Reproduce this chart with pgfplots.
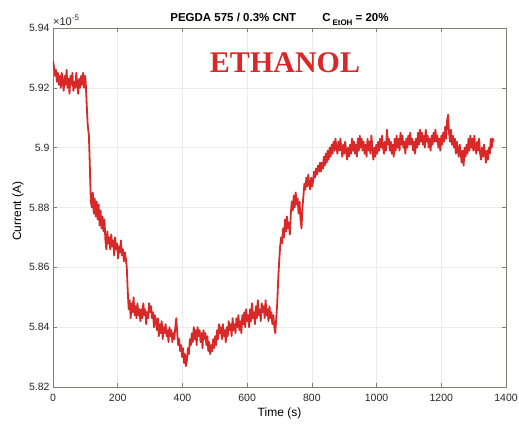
\documentclass[border=0pt]{standalone}
\usepackage{pgfplots}
\pgfplotsset{compat=1.18}
\usepackage{pgfplotstable}
\usepackage{fontspec}
\setmainfont{Liberation Sans}
\newfontfamily\serifb{Liberation Serif}
\definecolor{lred}{RGB}{217,40,40}
\definecolor{axgray}{RGB}{130,125,120}
\definecolor{gridgray}{RGB}{235,235,235}
\pgfplotstableread{
x y
0 5.929
3 5.927
6 5.924
9 5.926
12 5.922
15 5.925
18 5.921
21 5.924
24 5.920
27 5.925
30 5.922
33 5.919
36 5.924
39 5.921
42 5.926
45 5.920
48 5.923
51 5.918
54 5.924
57 5.921
60 5.925
63 5.919
66 5.922
69 5.920
72 5.925
75 5.921
78 5.918
81 5.923
84 5.920
87 5.924
90 5.921
93 5.925
96 5.920
99 5.924
101 5.922
104 5.915
107 5.908
109 5.906
111 5.904
113 5.897
115 5.889
117 5.882
120 5.880
123 5.885
126 5.878
129 5.883
132 5.877
135 5.882
138 5.876
141 5.881
144 5.874
147 5.879
150 5.873
153 5.877
156 5.872
159 5.876
162 5.869
165 5.866
168 5.872
171 5.868
174 5.870
177 5.866
180 5.871
183 5.867
186 5.869
189 5.864
192 5.870
195 5.866
198 5.868
201 5.863
204 5.867
207 5.865
210 5.869
213 5.864
216 5.866
219 5.862
222 5.865
225 5.863
228 5.860
231 5.852
234 5.846
237 5.849
240 5.843
243 5.848
246 5.845
249 5.850
252 5.844
255 5.847
258 5.843
261 5.848
264 5.844
267 5.846
270 5.842
273 5.846
276 5.843
279 5.848
282 5.844
285 5.846
288 5.841
291 5.845
294 5.843
297 5.848
300 5.845
303 5.847
306 5.843
309 5.845
312 5.840
315 5.844
318 5.842
321 5.839
324 5.843
327 5.837
330 5.841
333 5.838
336 5.842
339 5.836
342 5.840
345 5.838
348 5.841
351 5.837
354 5.839
357 5.835
360 5.840
363 5.837
366 5.839
369 5.835
372 5.838
375 5.836
378 5.840
381 5.843
384 5.838
387 5.834
390 5.836
393 5.832
396 5.834
399 5.830
402 5.833
405 5.828
408 5.831
411 5.827
414 5.829
417 5.833
420 5.831
423 5.836
426 5.834
429 5.838
432 5.835
435 5.840
438 5.836
441 5.839
444 5.834
447 5.840
450 5.837
453 5.839
456 5.835
459 5.838
462 5.833
465 5.839
468 5.836
471 5.838
474 5.834
477 5.837
480 5.832
483 5.835
486 5.831
489 5.834
492 5.832
495 5.836
498 5.833
501 5.837
504 5.834
507 5.839
510 5.836
513 5.841
516 5.838
519 5.840
522 5.836
525 5.841
528 5.837
531 5.839
534 5.835
537 5.840
540 5.837
543 5.842
546 5.839
549 5.841
552 5.837
555 5.843
558 5.839
561 5.841
564 5.838
567 5.843
570 5.840
573 5.844
576 5.839
579 5.842
582 5.838
585 5.844
588 5.841
591 5.845
594 5.840
597 5.846
600 5.842
603 5.844
606 5.840
609 5.846
612 5.842
615 5.848
618 5.843
621 5.845
624 5.841
627 5.847
630 5.843
633 5.849
636 5.844
639 5.846
642 5.842
645 5.848
648 5.845
651 5.847
654 5.843
657 5.849
660 5.844
663 5.846
666 5.842
669 5.847
672 5.843
675 5.845
678 5.841
681 5.844
684 5.840
687 5.838
690 5.843
693 5.848
696 5.856
699 5.862
702 5.867
705 5.870
708 5.868
711 5.873
714 5.870
717 5.876
720 5.872
723 5.877
726 5.873
729 5.875
732 5.871
735 5.878
738 5.882
741 5.879
744 5.884
747 5.880
750 5.885
753 5.881
756 5.883
759 5.878
762 5.882
765 5.876
768 5.873
771 5.880
774 5.884
777 5.888
780 5.886
783 5.890
786 5.887
789 5.891
792 5.888
795 5.886
798 5.890
801 5.887
804 5.889
807 5.892
810 5.890
813 5.893
816 5.891
819 5.894
822 5.892
825 5.895
828 5.892
831 5.895
834 5.893
837 5.897
840 5.894
843 5.898
846 5.895
849 5.899
852 5.896
855 5.900
858 5.897
861 5.901
864 5.898
867 5.902
870 5.899
873 5.903
876 5.900
879 5.898
882 5.902
885 5.899
888 5.903
891 5.900
894 5.897
897 5.901
900 5.898
903 5.902
906 5.899
909 5.896
912 5.900
915 5.897
918 5.901
921 5.898
924 5.903
927 5.899
930 5.902
933 5.898
936 5.901
939 5.897
942 5.903
945 5.899
948 5.904
951 5.900
954 5.903
957 5.899
960 5.902
963 5.898
966 5.901
969 5.897
972 5.903
975 5.899
978 5.902
981 5.898
984 5.904
987 5.900
990 5.896
993 5.900
996 5.897
999 5.901
1002 5.898
1005 5.902
1008 5.899
1011 5.903
1014 5.900
1017 5.904
1020 5.900
1023 5.898
1026 5.902
1029 5.899
1032 5.906
1035 5.901
1038 5.903
1041 5.899
1044 5.902
1047 5.898
1050 5.901
1053 5.897
1056 5.903
1059 5.899
1062 5.904
1065 5.900
1068 5.903
1071 5.899
1074 5.905
1077 5.901
1080 5.904
1083 5.900
1086 5.902
1089 5.898
1092 5.903
1095 5.900
1098 5.904
1101 5.901
1104 5.905
1107 5.901
1110 5.903
1113 5.899
1116 5.902
1119 5.898
1122 5.903
1125 5.900
1128 5.905
1131 5.901
1134 5.906
1137 5.902
1140 5.905
1143 5.901
1146 5.904
1149 5.900
1152 5.906
1155 5.902
1158 5.904
1161 5.900
1164 5.903
1167 5.899
1170 5.904
1173 5.901
1176 5.905
1179 5.902
1182 5.906
1185 5.902
1188 5.904
1191 5.900
1194 5.903
1197 5.899
1200 5.904
1203 5.901
1206 5.905
1209 5.902
1212 5.907
1215 5.903
1218 5.909
1221 5.911
1224 5.905
1227 5.902
1230 5.906
1233 5.901
1236 5.904
1239 5.900
1242 5.903
1245 5.898
1248 5.902
1251 5.899
1254 5.897
1257 5.901
1260 5.898
1263 5.895
1266 5.899
1269 5.894
1272 5.900
1275 5.897
1278 5.901
1281 5.898
1284 5.903
1287 5.899
1290 5.904
1293 5.900
1296 5.903
1299 5.899
1302 5.904
1305 5.900
1308 5.898
1311 5.902
1314 5.899
1317 5.903
1320 5.898
1323 5.896
1326 5.900
1329 5.897
1332 5.901
1335 5.898
1338 5.895
1341 5.899
1344 5.896
1347 5.900
1350 5.898
1353 5.903
1356 5.900
1359 5.903
1362 5.902
}\currentdata
\begin{document}
\begin{tikzpicture}
\begin{axis}[
  name=ax,
  at={(0,0)}, anchor=south west,
  scale only axis, width=453pt, height=359pt,
  xmin=0, xmax=1400, ymin=5.82, ymax=5.94,
  xtick={0,200,400,600,800,1000,1200,1400},
  ytick={5.82,5.84,5.86,5.88,5.90,5.92,5.94},
  grid=major,
  major grid style={gridgray, line width=0.6pt},
  axis line style={axgray, line width=0.8pt},
  tick style={axgray, line width=0.6pt},
  major tick length=4pt,
  tick align=inside,
  /pgf/number format/assume math mode=true,
  tick label style={font=\fontsize{10.5}{12}\selectfont, color=black!85},
  yticklabel style={/pgf/number format/.cd, fixed, precision=2},
  xticklabel style={yshift=-4pt, /pgf/number format/.cd, fixed, precision=0, 1000 sep={}},
  scaled y ticks=false, scaled x ticks=false,
  xlabel={Time (s)},
  ylabel={Current (A)},
  xlabel style={at={(axis description cs:0.5,0)}, anchor=north, inner sep=0pt, yshift=-21pt, font=\fontsize{12}{14}\selectfont},
  ylabel style={at={(axis description cs:-0.0773,0.49)}, anchor=center, inner sep=0pt, font=\fontsize{12}{14}\selectfont},
  title={\bfseries PEGDA 575 / 0.3\% CNT\hspace{26pt}C\,\raisebox{-4pt}{\fontsize{8}{9}\selectfont\bfseries EtOH} = 20\%},
  title style={at={(axis description cs:0.5,1)}, anchor=south, yshift=-7pt, font=\fontsize{11.5}{13}\selectfont},
]
\addplot[lred, line width=1.8pt, line join=round] table[x=x,y=y] {\currentdata};
\node[lred, font=\serifb\bfseries\fontsize{30}{32}\selectfont] at (axis cs:717,5.9283) {ETHANOL};
\end{axis}
\node[anchor=south west, inner sep=0pt, font=\fontsize{11}{13}\selectfont, black!85] at ([yshift=2pt]ax.north west) {×10\raisebox{5pt}{\fontsize{8}{9}\selectfont -5}};
\pgfresetboundingbox
\useasboundingbox ([shift={(-53pt,-38pt)}]ax.south west) rectangle ([shift={(13pt,28pt)}]ax.north east);
\end{tikzpicture}
\end{document}
